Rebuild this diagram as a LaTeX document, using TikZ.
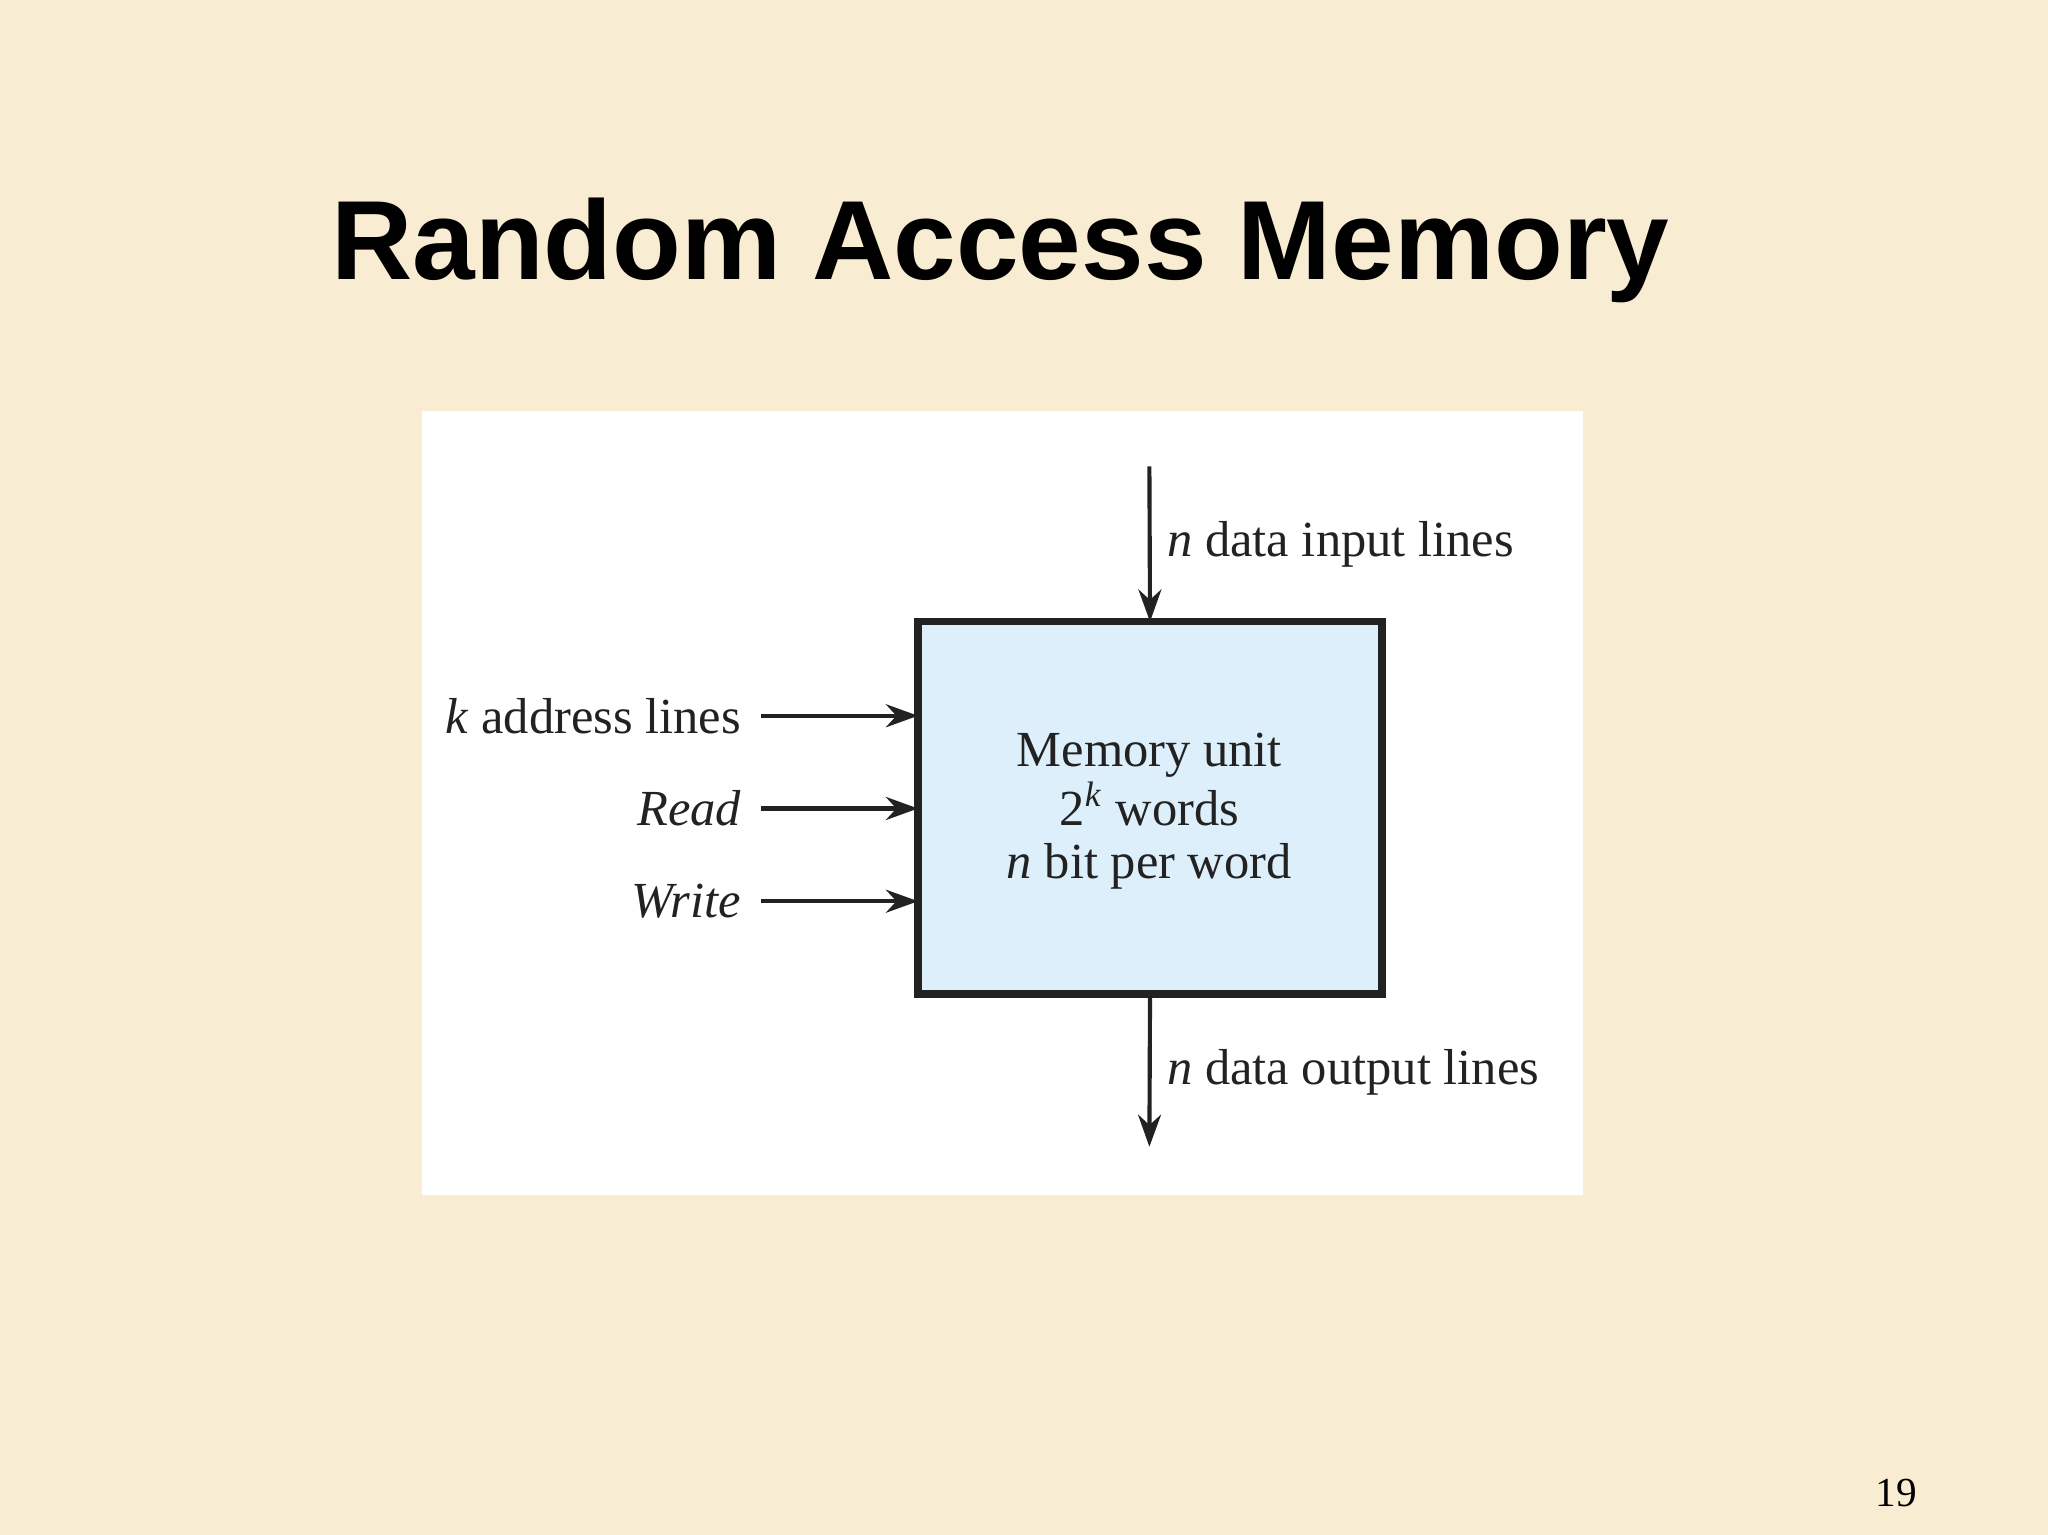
\documentclass[tikz,border=0pt]{standalone}
\usepackage{fontspec}
\setmainfont{Liberation Serif}
\newfontfamily\titlefont{Liberation Sans}
\usetikzlibrary{arrows.meta}
\definecolor{bg}{HTML}{F8EDD2}
\definecolor{boxfill}{HTML}{DDEFFA}
\definecolor{ink}{HTML}{222222}
\begin{document}
\begin{tikzpicture}[x=0.01cm,y=-0.01cm,
  lbl/.style={font=\fontsize{11}{13}\selectfont, text=ink, inner sep=0pt},
  arr/.style={draw=ink, line width=0.9pt, -{Stealth[length=7pt,width=5pt]}}]
\fill[bg] (0,0) rectangle (1568,1175);
\useasboundingbox (0,0) rectangle (1568,1175);
\node[font=\titlefont\bfseries\fontsize{24.5}{28}\selectfont] (title) at (766,192) {Random Access Memory};
\fill[white] (323,315) rectangle (1212,915);
\node[draw=ink, line width=1.6pt, fill=boxfill, minimum width=3.55cm, minimum height=2.85cm, inner sep=0pt, outer sep=0pt] (mem) at (880.5,618.5) {};
\node[lbl, align=center, font=\fontsize{11}{11.5}\selectfont] (memtxt) at (880,621) {Memory unit\\2\textsuperscript{\itshape k} words\\\textit{n} bit per word};
\coordinate (inS) at (880,357);
\coordinate (outE) at (880,878);
\node[lbl, anchor=west] (inl) at (893,417) {\textit{n} data input lines};
\node[lbl, anchor=west] (outl) at (893,821) {\textit{n} data output lines};
\draw[arr] (inS) -- (mem.north);
\draw[arr] (mem.south) -- (outE);
\node[lbl, anchor=east] (addr) at (568,548) {\textit{k} address lines};
\node[lbl, anchor=east] (rd) at (568,619) {\itshape Read};
\node[lbl, anchor=east] (wr) at (568,690) {\itshape Write};
\coordinate (a1) at (583,548); \coordinate (a2) at (mem.west |- a1);
\coordinate (r1) at (583,619); \coordinate (r2) at (mem.west |- r1);
\coordinate (w1) at (583,690); \coordinate (w2) at (mem.west |- w1);
\draw[arr] (a1) -- (a2);
\draw[arr] (r1) -- (r2);
\draw[arr] (w1) -- (w2);
\node[font=\fontsize{9}{11}\selectfont] (pg) at (1452,1143) {19};
\end{tikzpicture}
\end{document}
